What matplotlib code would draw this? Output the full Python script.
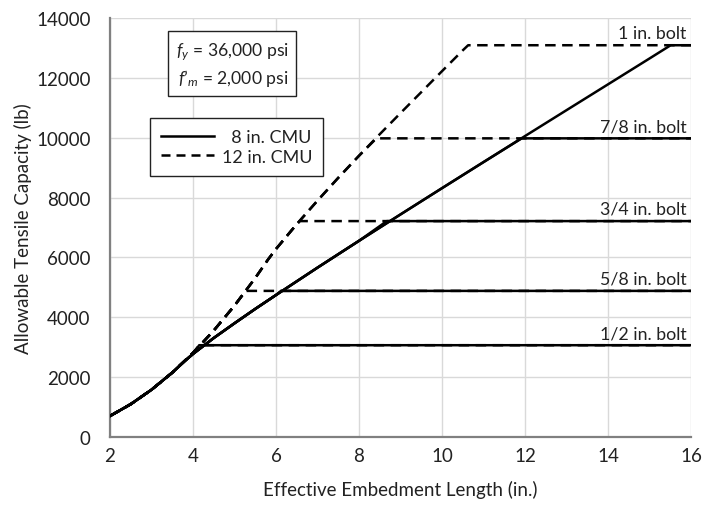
import matplotlib
matplotlib.use("Agg")
import matplotlib.pyplot as plt

plt.rcParams['font.family'] = ['Lato', 'DejaVu Sans']
plt.rcParams['mathtext.fontset'] = 'custom'
plt.rcParams['mathtext.rm'] = 'Lato'
plt.rcParams['mathtext.it'] = 'Lato:italic'

# Masonry breakout capacity (lb) vs. effective embedment length (in.)
emb_8 = [2, 2.5, 3, 3.5, 3.81, 4, 4.5, 5, 5.5, 6, 7, 8, 9, 10, 11, 12, 13, 14, 15, 16]
cap_8 = [702, 1097, 1580, 2151, 2550, 2776, 3308, 3800, 4280, 4744, 5659, 6555,
         7437, 8314, 9185, 10055, 10920, 11783, 12647, 13510]

emb_12 = [2, 2.5, 3, 3.5, 4, 4.5, 5, 5.5, 5.81, 6, 6.5, 7, 7.5, 8, 8.5, 9, 9.5, 10, 10.5, 11]
cap_12 = [702, 1097, 1580, 2151, 2810, 3556, 4390, 5313, 5933, 6281, 7112, 7898,
          8660, 9397, 10117, 10823, 11522, 12223, 12918, 13610]

# Steel (bolt) capacities and where each bolt line flattens
bolt_labels = ['1/2 in. bolt', '5/8 in. bolt', '3/4 in. bolt', '7/8 in. bolt', '1 in. bolt']
bolt_cap = [3067, 4882, 7214, 9979, 13090]
break_8 = [4.15, 6.12, 8.67, 11.92, 15.51]
break_12 = [4.15, 5.27, 6.58, 8.42, 10.63]
x_end = 16

W, H = 702, 506
fig = plt.figure(figsize=(W / 100, H / 100), dpi=100)
ax = fig.add_axes([110 / W, (H - 438) / H, (691 - 110) / W, (438 - 19) / H])

LW = 1.8
DASH = (0, (4.2, 2.6))
TXT = '#222222'


def bolt_series(emb, cap, xb, cb):
    xs = [e for e in emb if e < xb]
    ys = [c for e, c in zip(emb, cap) if e < xb]
    return xs + [xb, x_end], ys + [cb, cb]


# dashed first (12 in. CMU), solid on top (8 in. CMU)
for i in range(len(bolt_cap)):
    xs, ys = bolt_series(emb_12, cap_12, break_12[i], bolt_cap[i])
    ax.plot(xs, ys, color='black', lw=LW, linestyle=DASH,
            label='12 in. CMU' if i == 0 else None, zorder=3)
for i in range(len(bolt_cap)):
    xs, ys = bolt_series(emb_8, cap_8, break_8[i], bolt_cap[i])
    ax.plot(xs, ys, color='black', lw=LW, linestyle='-',
            label='  8 in. CMU' if i == 0 else None, zorder=4)

for lab, c in zip(bolt_labels, bolt_cap):
    ax.annotate(lab, xy=(15.9, c), xytext=(0, 3), textcoords='offset points',
                ha='right', va='bottom', fontsize=12.8, color=TXT)

ax.set_xlim(2, 16)
ax.set_ylim(0, 14000)
ax.set_xticks(range(2, 17, 2))
ax.set_yticks(range(0, 14001, 2000))
ax.grid(True, color='#d9d9d9', lw=1.0)
ax.set_axisbelow(True)
for s in ['top', 'right']:
    ax.spines[s].set_visible(False)
for s in ['left', 'bottom']:
    ax.spines[s].set_color('#808080')
    ax.spines[s].set_linewidth(1.6)
ax.tick_params(length=0, labelsize=13.5, labelcolor=TXT)
ax.tick_params(axis='y', pad=14)
ax.tick_params(axis='x', pad=7)
ax.set_xlabel('Effective Embedment Length (in.)', fontsize=13.5, color=TXT, labelpad=12)
ax.set_ylabel('Allowable Tensile Capacity (lb)', fontsize=13.5, color=TXT, labelpad=3)

# legend, ordered 8 in. first
h, l = ax.get_legend_handles_labels()
order = [1, 0]
leg = ax.legend([h[i] for i in order], [l[i] for i in order],
                loc='upper left', bbox_to_anchor=((150 - 110) / 581, (438 - 119) / 419),
                borderaxespad=0, fancybox=False, edgecolor=TXT, framealpha=1,
                fontsize=13, handlelength=2.9, handletextpad=0.45, labelspacing=0.2,
                borderpad=0.62)
leg.get_frame().set_linewidth(1.0)
for t in leg.get_texts():
    t.set_color(TXT)
leg.legend_handles[1].set_linestyle((0, (3.6, 2.4)))

ax.text((232 - 110) / 581, (438 - 65.5) / 419,
        "$f_y$ = 36,000 psi\n$f$\u2019$_m$ = 2,000 psi",
        transform=ax.transAxes, ha='center', va='center', multialignment='right',
        fontsize=12.6, color=TXT, linespacing=1.3,
        bbox=dict(boxstyle='square,pad=0.45', fc='white', ec=TXT, lw=1.0), zorder=6)

fig.savefig('out.png', dpi=100)
